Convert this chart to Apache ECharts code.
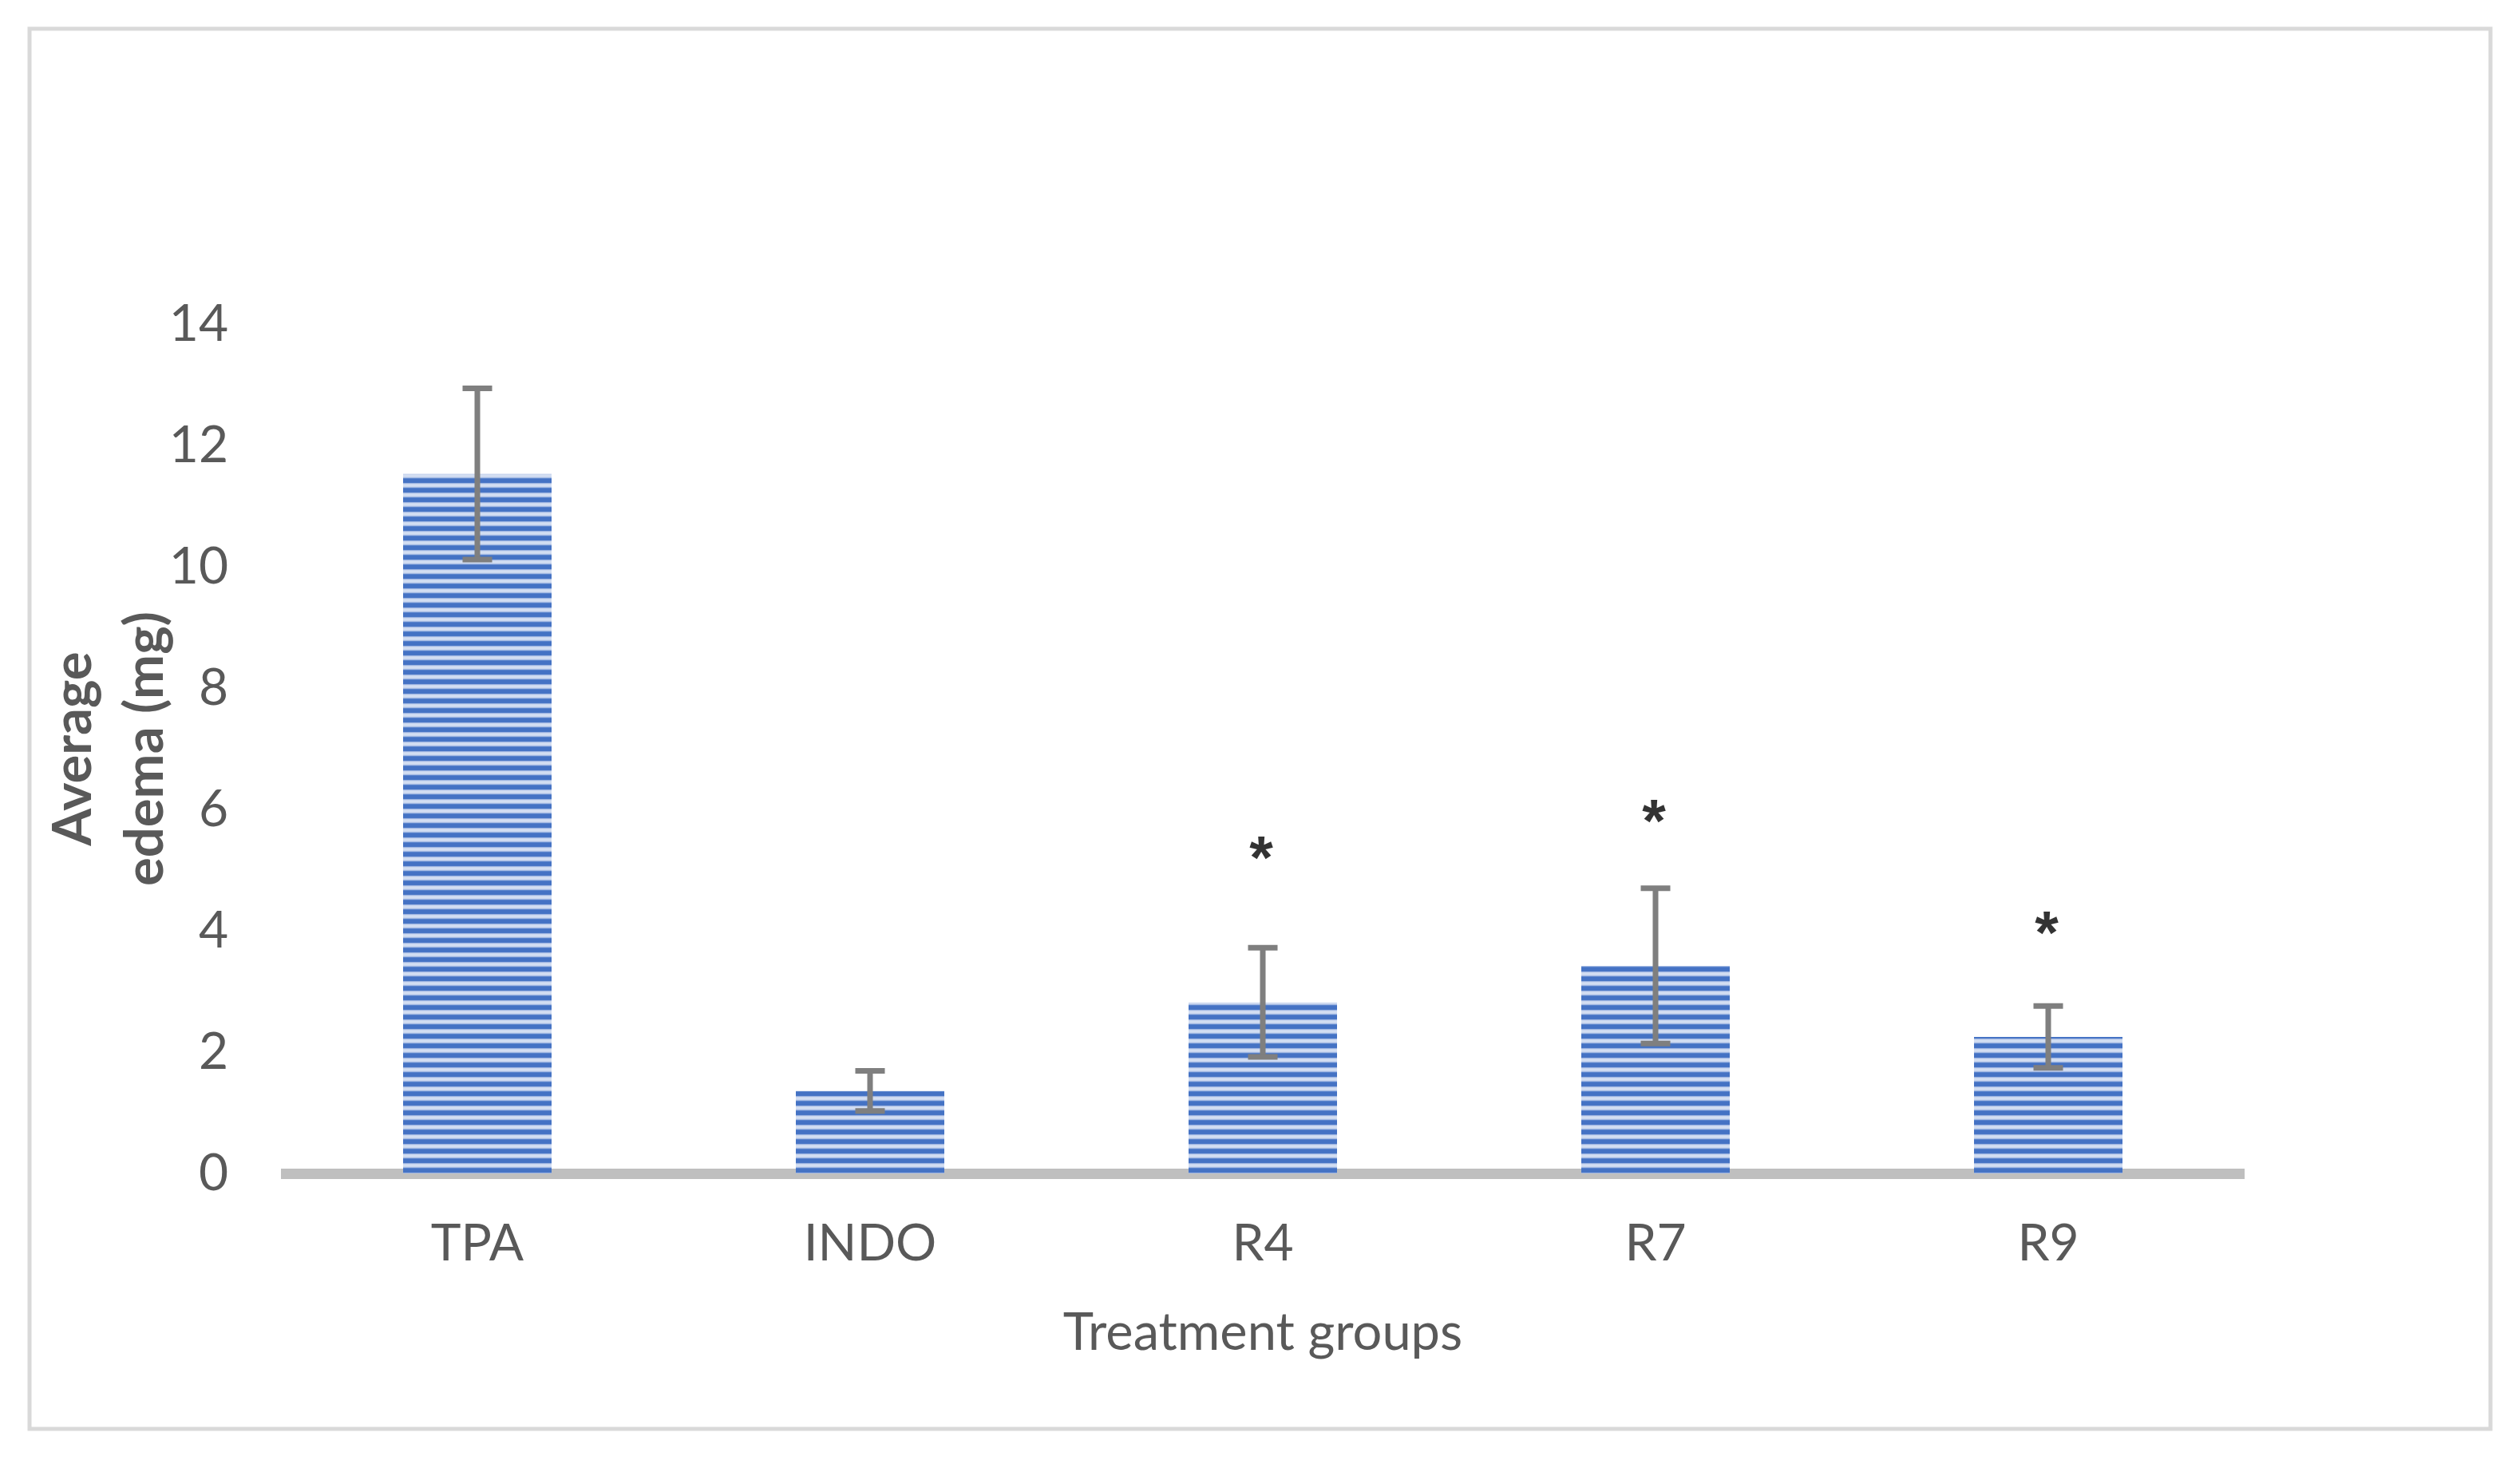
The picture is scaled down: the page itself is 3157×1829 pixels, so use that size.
<!DOCTYPE html>
<html>
<head>
<meta charset="utf-8">
<style>
  html, body { margin: 0; padding: 0; background: #ffffff; }
  #chart { width: 3157px; height: 1829px; }
</style>
<script src="https://cdn.jsdelivr.net/npm/echarts@6/dist/echarts.min.js"></script>
</head>
<body>
<div id="chart"></div>
<script>
// ---- data ----
var categories = ['TPA', 'INDO', 'R4', 'R7', 'R9'];
var meanEdema = [11.53, 1.36, 2.82, 3.42, 2.25];
var errorSD = [1.41, 0.33, 0.90, 1.28, 0.51];
var starCategories = ['R4', 'R7', 'R9'];
var starValues = [5.39, 6.00, 4.16];
var yTicks = [0, 2, 4, 6, 8, 10, 12, 14];

// ---- stripe pattern ----
function makeStripe() {
  var c = document.createElement('canvas');
  c.width = 8; c.height = 12;
  var ctx = c.getContext('2d');
  var rows = ['#4472C4', '#4472C4', '#4472C4', '#4472C4', '#4a77c6',
              '#9db4e1', '#c9d6ef', '#d3def2', '#d3def2', '#c9d6ef', '#a3b9e3', '#5a84cc'];
  for (var i = 0; i < rows.length; i++) {
    ctx.fillStyle = rows[i];
    ctx.fillRect(0, i, 8, 1);
  }
  return c;
}

var chart = echarts.init(document.getElementById('chart'), null, { renderer: 'canvas' });
var FONT = 'Lato';
var TXT = '#595959';

var errData = categories.map(function (c, i) {
  return [i, meanEdema[i] - errorSD[i], meanEdema[i] + errorSD[i]];
});
var starData = starCategories.map(function (c, i) {
  return [c, starValues[i]];
});

var option = {
  backgroundColor: '#ffffff',
  animation: false,
  graphic: [{
    type: 'rect',
    shape: { x: 37, y: 36, width: 3083, height: 1754 },
    style: { fill: 'none', stroke: '#D9D9D9', lineWidth: 5 },
    silent: true
  }],
  grid: { left: 352, right: 345, top: 406, bottom: 359 },
  xAxis: {
    type: 'category',
    data: categories,
    axisLine: { show: true, lineStyle: { color: '#BFBFBF', width: 13, cap: 'butt' } },
    axisTick: { show: false },
    axisLabel: { color: TXT, fontSize: 64, fontFamily: FONT, margin: 56 },
    name: 'Treatment groups',
    nameLocation: 'middle',
    nameGap: 168,
    nameMoveOverlap: false,
    nameTextStyle: { color: TXT, fontSize: 65, fontFamily: FONT },
    splitLine: { show: false }
  },
  yAxis: {
    type: 'value',
    min: yTicks[0],
    max: yTicks[yTicks.length - 1],
    interval: yTicks[1] - yTicks[0],
    axisLine: { show: false },
    axisTick: { show: false },
    splitLine: { show: false },
    axisLabel: { color: TXT, fontSize: 64, fontFamily: FONT, margin: 66 },
    name: 'Average\nedema (mg)',
    nameLocation: 'middle',
    nameGap: 125,
    nameMoveOverlap: false,
    nameTextStyle: { color: TXT, fontSize: 67, fontFamily: FONT, fontWeight: 'bold', lineHeight: 90 }
  },
  series: [
    {
      type: 'bar',
      data: meanEdema,
      barWidth: 186,
      itemStyle: { color: { image: makeStripe(), repeat: 'repeat' } },
      z: 2
    },
    {
      type: 'custom',
      data: errData,
      z: 3,
      renderItem: function (params, api) {
        var x = api.value(0);
        var lo = api.coord([x, api.value(1)]);
        var hi = api.coord([x, api.value(2)]);
        var hw = 18.5;
        var st = { stroke: '#7F7F7F', lineWidth: 7 };
        return {
          type: 'group',
          children: [
            { type: 'line', shape: { x1: hi[0], y1: hi[1], x2: lo[0], y2: lo[1] }, style: st },
            { type: 'line', shape: { x1: hi[0] - hw, y1: hi[1], x2: hi[0] + hw, y2: hi[1] }, style: st },
            { type: 'line', shape: { x1: lo[0] - hw, y1: lo[1], x2: lo[0] + hw, y2: lo[1] }, style: st }
          ]
        };
      }
    },
    {
      type: 'scatter',
      data: starData,
      symbolSize: 1,
      itemStyle: { color: 'rgba(0,0,0,0)' },
      z: 4,
      label: {
        show: true,
        position: 'inside',
        formatter: '*',
        color: '#000000',
        fontSize: 76,
        fontWeight: 'bold',
        fontFamily: 'Liberation Sans',
        offset: [-2, 19]
      }
    }
  ]
};
chart.setOption(option);
</script>
</body>
</html>
